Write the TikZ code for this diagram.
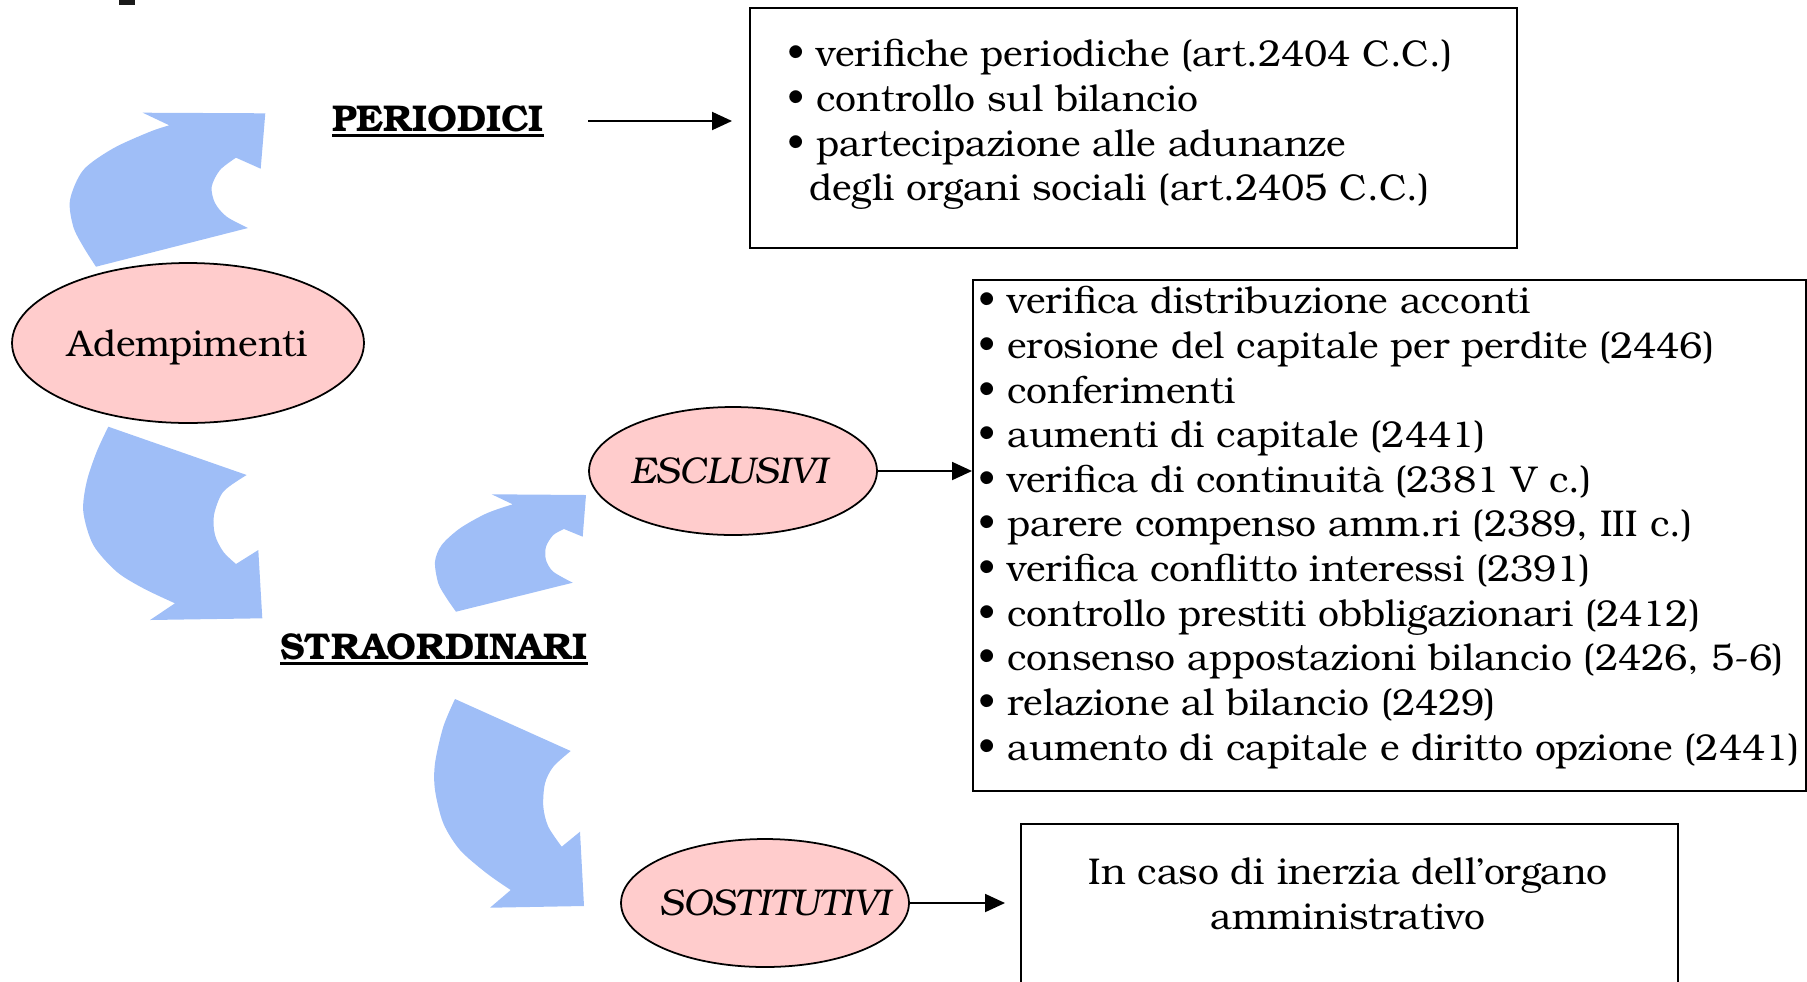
\documentclass[tikz,border=0pt]{standalone}
\usepackage{fontspec}
\setmainfont{TeX Gyre Bonum}
\usepackage{tikz}
\usetikzlibrary{arrows.meta,shapes.geometric,positioning}
\usepackage{xcolor}
\definecolor{adpink}{RGB}{255,204,204}
\definecolor{adblue}{RGB}{159,190,247}
\definecolor{adgray}{RGB}{26,26,26}
\newcommand{\adsize}{\fontsize{21.2pt}{25.4pt}\selectfont}
\newcommand{\adul}[1]{\leavevmode\setbox0=\hbox{#1}\rlap{\raisebox{-3pt}{\rule{\wd0}{1.2pt}}}\box0}
\tikzstyle{oval} = [ellipse, draw=black, line width=1pt, fill=adpink, minimum width=5.76cm, minimum height=2.56cm, inner sep=0pt]
\tikzstyle{frame} = [rectangle, draw=black, line width=1.1pt, inner sep=0pt]
\tikzstyle{txt} = [inner sep=0pt, align=left]
\tikzstyle{head} = [inner sep=0pt, font=\adsize\bfseries]
\tikzstyle{arrow} = [line width=1.1pt, -{Triangle[length=0.4cm,width=0.36cm]}]
\tikzstyle{swoosh} = [fill=adblue]

\begin{document}
\begin{tikzpicture}[x=0.02cm, y=-0.02cm, font=\adsize]
\clip (0,0) rectangle (1807,981);
\fill[adgray] (119,0) rectangle (135,5);

% Curved arrows
\fill[swoosh] (96,266.7) -- (248,228)
  -- plot[smooth] coordinates {(248,228) (226.7,216.7) (215,203) (211.7,186.7) (220,170) (236,157.7)}
  -- (260.7,168.7) -- (265.3,113.3) -- (142.7,112.7)
  -- plot[smooth] coordinates {(169.3,125.3) (150,131.7) (113.3,148.3) (83.3,170) (70,200) (73.3,226.7) (83.3,246.7) (96,266.7)}
  -- cycle;
\fill[swoosh] (108.3,426.7) -- (246.7,475)
  -- plot[smooth] coordinates {(246.7,475) (223.3,491.7) (214,515) (215,535) (223.3,551.7) (236,564)}
  -- (258.3,550) -- (262.3,618.3) -- (150,620)
  -- plot[smooth] coordinates {(175,603.3) (143.3,588.3) (116.7,571.7) (93.3,545) (83.3,511.7) (86.7,481.7) (96.7,451.7) (108.3,426.7)}
  -- cycle;
\fill[swoosh] (456,611.7) -- (572.7,582.7)
  -- plot[smooth] coordinates {(572.7,582.7) (553.3,571.7) (546,560) (546,546.7) (553.3,535) (564,529)}
  -- (582.7,536.7) -- (586,495) -- (491.7,494.3)
  -- plot[smooth] coordinates {(512.7,504.3) (486.7,513.3) (460,528.3) (441.7,545) (435,561.7) (438.3,583.3) (446.7,598.3) (456,611.7)}
  -- cycle;
\fill[swoosh] (455,699) -- (570.7,751)
  -- plot[smooth] coordinates {(570.7,751) (553.3,766.7) (545,783.3) (543.3,806.7) (548.3,826.7) (561.7,846.7)}
  -- (580,831.7) -- (584,906) -- (490,907.7)
  -- plot[smooth] coordinates {(510.7,890) (486.7,873.3) (460,850) (443.3,823.3) (435,790) (435,763.3) (443.3,726.7) (455,699)}
  -- cycle;

% Ovals and headings
\node[oval, minimum width=7.04cm, minimum height=3.2cm] (adem) at (188,343) {\rule{0pt}{0.7cm}Adempimenti};
\node[head] (peri) at (438,121) {\adul{PERIODICI}};
\node[head] (stra) at (434,649) {\adul{STRAORDINARI}};
\node[oval, font=\adsize\itshape] (escl) at (733,471) {\makebox[0pt]{ESCLUSIVI\hspace{0.16cm}}};
\node[oval, font=\adsize\itshape] (sost) at (765,903) {\makebox[0pt]{\hspace{0.4cm}SOSTITUTIVI}};

% Boxes
\node[frame, anchor=north west, minimum width=15.34cm, minimum height=4.8cm] (perbox) at (749,7) {};
\node[txt, anchor=west] (pertext) at (787,124.5) {• verifiche periodiche (art.2404 C.C.)\\
  • controllo sul bilancio\\
  • partecipazione alle adunanze\\
  \hspace{0.44cm}degli organi sociali (art.2405 C.C.)};

\node[frame, anchor=north west, minimum width=16.66cm, minimum height=10.22cm] (esclbox) at (972,279) {};
\node[txt, anchor=west] (escltext) at (978,527.5) {• verifica distribuzione acconti\\
  • erosione del capitale per perdite (2446)\\
  • conferimenti\\
  • aumenti di capitale (2441)\\
  • verifica di continuità (2381 V c.)\\
  • parere compenso amm.ri (2389, III c.)\\
  • verifica conflitto interessi (2391)\\
  • controllo prestiti obbligazionari (2412)\\
  • consenso appostazioni bilancio (2426, 5-6)\\
  • relazione al bilancio (2429)\\
  • aumento di capitale e diritto opzione (2441)};

\node[frame, anchor=north west, minimum width=13.14cm, minimum height=4cm] (sostbox) at (1020,823) {};
\node[inner sep=0pt, align=center] (sosttext) at (1348,893.5) {In caso di inerzia dell’organo\\amministrativo};

% Links
\draw[arrow, shorten <=0.88cm, shorten >=0.34cm] (peri.east) -- (peri.east -| perbox.west);
\draw[arrow] (escl.east) -- (escl.east -| esclbox.west);
\draw[arrow, shorten >=0.3cm] (sost.east) -- (sost.east -| sostbox.west);
\end{tikzpicture}
\end{document}
